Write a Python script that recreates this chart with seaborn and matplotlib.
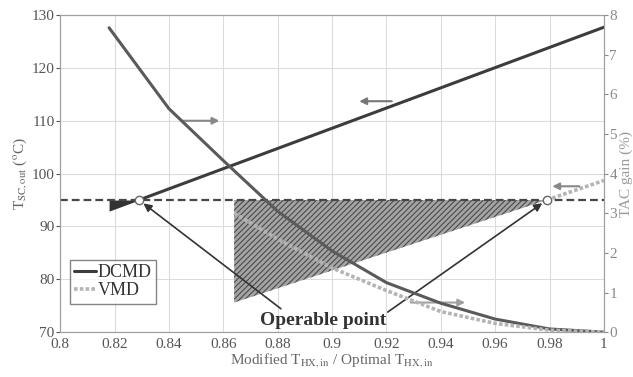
import numpy as np
import pandas as pd
import seaborn as sns
import matplotlib.pyplot as plt

# values
# T_SC,out (left axis, degC) - straight lines
dcmd_t_x = [0.818, 1.0]
dcmd_t_y = [92.9, 127.7]
vmd_t_x = [0.864, 0.979, 1.0]
vmd_t_y = [75.6, 95.0, 98.7]

# TAC gain (right axis, %)
dcmd_tac_x = [0.818, 0.84, 0.86, 0.88, 0.90, 0.92, 0.94, 0.96, 0.98, 1.0]
dcmd_tac_y = [7.68, 5.64, 4.33, 3.05, 2.05, 1.25, 0.73, 0.33, 0.08, 0.0]
vmd_tac_x = [0.864, 0.88, 0.90, 0.92, 0.94, 0.96, 0.98, 1.0]
vmd_tac_y = [3.0, 2.35, 1.62, 1.05, 0.52, 0.22, 0.05, 0.0]

t_limit = 95
operable_x = [0.829, 0.979]

sns.set_style("whitegrid", {"grid.color": "#dcdcdc", "axes.edgecolor": "#a0a0a0"})
plt.rcParams['font.family'] = ['Liberation Serif', 'DejaVu Serif']
plt.rcParams['mathtext.fontset'] = 'stix'
plt.rcParams['hatch.linewidth'] = 0.8

dark = "#3c3c3c"
mid = "#5a5a5a"
light = "#b4b4b4"

fig, ax = plt.subplots(figsize=(6.33, 3.77), dpi=100)
fig.subplots_adjust(left=0.095, right=0.954, bottom=0.119, top=0.96)
ax2 = ax.twinx()

# feasible parts of T_SC,out lines (above the limit)
xd = np.linspace(operable_x[0], 1.0, 20)
sns.lineplot(x=xd, y=np.interp(xd, dcmd_t_x, dcmd_t_y), ax=ax, color=dark, lw=2.2, label="DCMD")
xv = np.linspace(operable_x[1], 1.0, 10)
sns.lineplot(x=xv, y=np.interp(xv, vmd_t_x, vmd_t_y), ax=ax, color=light, lw=2.6,
             linestyle=(0, (1, 0.6)), label="VMD")

# infeasible regions
xf = np.linspace(dcmd_t_x[0], operable_x[0], 10)
ax.fill_between(xf, np.interp(xf, dcmd_t_x, dcmd_t_y), t_limit, color="#333333", lw=0)
xh = np.linspace(vmd_t_x[0], operable_x[1], 20)
ax.fill_between(xh, np.interp(xh, vmd_t_x, vmd_t_y), t_limit, facecolor="#a4a4a4",
                hatch="//////", edgecolor="#4a4a4a", lw=0)

ax.axhline(t_limit, color="#474747", lw=1.6, linestyle=(0, (3.5, 1.8)), zorder=3)

# TAC gain
sns.lineplot(x=dcmd_tac_x, y=dcmd_tac_y, ax=ax2, color=mid, lw=2.2)
sns.lineplot(x=vmd_tac_x, y=vmd_tac_y, ax=ax2, color=light, lw=2.6, linestyle=(0, (1, 0.6)))

ax.plot(operable_x, [t_limit, t_limit], "o", ms=6, mfc="white", mec="#666666", zorder=5)

# axis direction arrows
arr = dict(arrowstyle="-|>", color="#888888", lw=1.5, mutation_scale=10)
ax.annotate("", xy=(0.8596, 110), xytext=(0.844, 110), arrowprops=arr)
ax.annotate("", xy=(0.909, 113.7), xytext=(0.923, 113.7), arrowprops=dict(arr, color="#777777"))
ax.annotate("", xy=(0.980, 97.6), xytext=(0.992, 97.6), arrowprops=arr)
ax.annotate("", xy=(0.950, 75.6), xytext=(0.928, 75.6), arrowprops=dict(arr, color="#a0a0a0"))

# operable point label
op = dict(arrowstyle="-|>", color="#333333", lw=1.2, mutation_scale=12, shrinkA=0, shrinkB=4)
ax.annotate("Operable point", xy=(operable_x[0], t_limit), xytext=(0.8967, 72.2),
            ha="center", va="center", fontsize=14, fontweight="bold", color="#333333",
            arrowprops=dict(op, relpos=(0.2, 1.0)))
ax.annotate("", xy=(operable_x[1], t_limit), xytext=(0.9205, 73.8), arrowprops=op)

ax.set_xlim(0.8, 1.0)
ax.set_ylim(70, 130)
ax2.set_ylim(0, 8)
ax.set_xticks(np.arange(0.8, 1.001, 0.02))
ax.set_xticklabels(["0.8", "0.82", "0.84", "0.86", "0.88", "0.9", "0.92", "0.94", "0.96", "0.98", "1"])
ax.set_yticks(np.arange(70, 131, 10))
ax2.set_yticks(np.arange(0, 9, 1))
ax2.grid(False)

ax.tick_params(axis="both", labelsize=11, colors="#555555", length=3, pad=1)
ax2.tick_params(axis="y", labelsize=11, colors="#8a8a8a", length=3, pad=1)

ax.set_xlabel(r"Modified T$_{\mathrm{HX,in}}$ / Optimal T$_{\mathrm{HX,in}}$", fontsize=11,
              color="#666666", labelpad=0)
ax.set_ylabel(r"T$_{\mathrm{SC,out}}$ ($^{\mathrm{o}}$C)", fontsize=11, color="#666666", labelpad=2)
ax2.set_ylabel("TAC gain (%)", fontsize=11, color="#9a9a9a", labelpad=2)

leg = ax.legend(loc="lower left", bbox_to_anchor=(0.018, 0.09), borderaxespad=0, fontsize=13,
                handlelength=1.2, handletextpad=0.1, borderpad=0.25, labelspacing=0.05,
                fancybox=False, frameon=True)
leg.get_frame().set_edgecolor("#666666")
leg.get_frame().set_linewidth(1.0)
for t in leg.get_texts():
    t.set_color("#333333")

fig.savefig("out.png", dpi=100)
